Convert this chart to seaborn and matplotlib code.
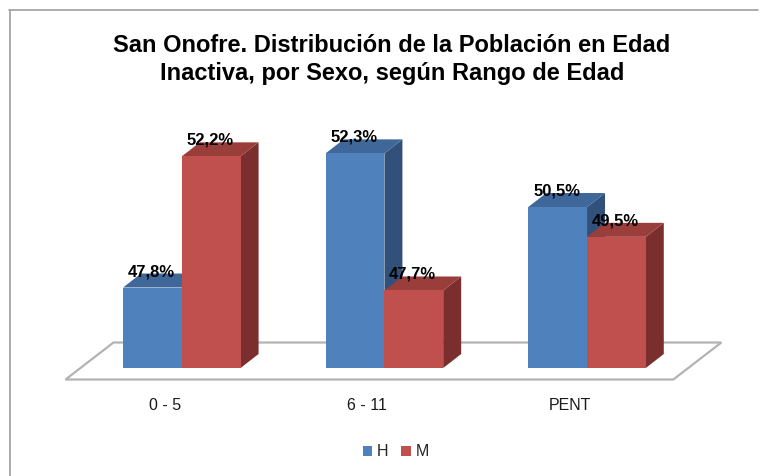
import matplotlib
matplotlib.use('Agg')
import matplotlib.pyplot as plt
import seaborn as sns
import pandas as pd
from matplotlib.patches import Polygon, Rectangle
from matplotlib.lines import Line2D
from matplotlib.colors import to_hex
from matplotlib.transforms import IdentityTransform, offset_copy

# data
rangos = ['0 - 5', '6 - 11', 'PENT']
hombres = [47.8, 52.3, 50.5]
mujeres = [52.2, 47.7, 49.5]
sexos = ['H', 'M']

titulo = "San Onofre. Distribución de la Población en Edad\nInactiva, por Sexo, según Rango de Edad"

colores = {'H': '#4F81BD', 'M': '#C0504D'}
techo = {'H': '#3F679A', 'M': '#9A3E3C'}
lado = {'H': '#31507A', 'M': '#7A2E2D'}

sns.set_theme(style="white")
plt.rcParams['font.family'] = ['Liberation Sans', 'DejaVu Sans']

W, H = 768, 476
fig = plt.figure(figsize=(W / 100, H / 100), dpi=100)
fig.patch.set_facecolor('white')
ax = fig.add_axes([40 / W, (H - 368) / H, 700 / W, 268 / H])

df = pd.DataFrame({
    'rango': rangos * 2,
    'sexo': ['H'] * len(hombres) + ['M'] * len(mujeres),
    'valor': hombres + mujeres,
})

sns.barplot(data=df, x='rango', y='valor', hue='sexo', hue_order=sexos,
            palette=colores, width=0.58, saturation=1, errorbar=None,
            linewidth=0, ax=ax)

base = 45.1
ax.set_xlim(-0.70, 2.755)
ax.set_ylim(base, 54.09)
ax.set_autoscale_on(False)
ax.patch.set_visible(False)
for s in ax.spines.values():
    s.set_visible(False)
ax.set_xlabel('')
ax.set_ylabel('')
posiciones = list(ax.get_xticks())
ax.set_xticks([])
ax.set_yticks([])

barras = [p for p in ax.patches
          if isinstance(p, Rectangle) and p.get_width() > 0 and p.get_height() > 0]

ident = IdentityTransform()

# floor of the 3d plot
xl, yb = ax.transData.transform((-0.5, base))
xr, _ = ax.transData.transform((2.5, base))
piso = [(xl + 9 - 24, yb + 7 - 18.5), (xr + 9 - 24, yb + 7 - 18.5),
        (xr + 9 + 24, yb + 7 + 18.5), (xl + 9 + 24, yb + 7 + 18.5)]
ax.add_patch(Polygon(piso, closed=True, transform=ident, facecolor='white',
                     edgecolor='#b3b3b3', lw=1.6, zorder=0.2, clip_on=False))

# depth faces for every bar
dx, dy = 18, 14
for p in barras:
    hx = to_hex(p.get_facecolor())
    sx = 'H' if hx.lower() == colores['H'].lower() else 'M'
    x0, w, v = p.get_x(), p.get_width(), p.get_height()
    X0, Yb = ax.transData.transform((x0, base))
    X1, Yt = ax.transData.transform((x0 + w, v))
    cara = [(X1, Yb), (X1 + dx, Yb + dy), (X1 + dx, Yt + dy), (X1, Yt)]
    tapa = [(X0, Yt), (X1, Yt), (X1 + dx, Yt + dy), (X0 + dx, Yt + dy)]
    ax.add_patch(Polygon(cara, closed=True, transform=ident, facecolor=lado[sx],
                         lw=0, zorder=0.5, clip_on=False))
    ax.add_patch(Polygon(tapa, closed=True, transform=ident, facecolor=techo[sx],
                         lw=0, zorder=0.5, clip_on=False))
    etiqueta = f"{v:.1f}".replace('.', ',') + '%'
    ax.text(x0 + w / 2, v, etiqueta, ha='center', va='center',
            fontsize=12, fontweight='bold', color='black', zorder=5,
            transform=offset_copy(ax.transData, fig=fig, x=-1, y=16, units='dots'))

# category labels
for xpos, r in zip(posiciones, rangos):
    ax.text(xpos, base, r, ha='center', va='center', fontsize=11.5, color='#1a1a1a',
            transform=offset_copy(ax.transData, fig=fig, x=-17, y=-37, units='dots'))

sns.move_legend(ax, loc='center', bbox_to_anchor=(396 / W, 1 - 452 / H),
                bbox_transform=fig.transFigure, ncol=2, frameon=False, title=None,
                fontsize=11.5, handlelength=0.6, handleheight=0.6,
                handletextpad=0.3, columnspacing=0.8)

fig.text(392 / W, 1 - 59.5 / H, titulo, ha='center', va='center', fontsize=17,
         fontweight='bold', linespacing=1.28, color='black')

# chart frame (left and top edges visible)
fig.add_artist(Line2D([9.5, 9.5], [0, H - 10], transform=ident, color='#a6a6a6', lw=1.3))
fig.add_artist(Line2D([9, 758], [H - 10, H - 10], transform=ident, color='#a6a6a6', lw=1.3))

fig.savefig('out.png', dpi=100)
plt.close()
